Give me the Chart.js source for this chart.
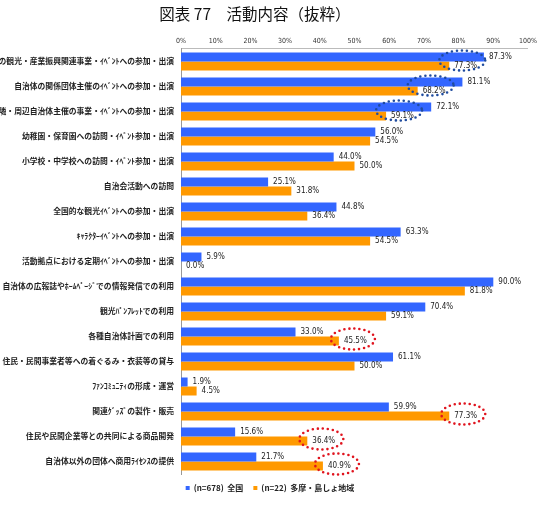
<!DOCTYPE html>
<html>
<head>
<meta charset="utf-8">
<script src="https://cdn.jsdelivr.net/npm/chart.js@4"></script>
<style>
  body { margin: 0; background: #fff; }
</style>
</head>
<body>
<canvas id="chart" width="541" height="510"></canvas>
<script>
const categories = [
    '自治体主催の観光・産業振興関連事業・ｲﾍﾞﾝﾄへの参加・出演',
    '自治体の関係団体主催のｲﾍﾞﾝﾄへの参加・出演',
    '近隣・周辺自治体主催の事業・ｲﾍﾞﾝﾄへの参加・出演',
    '幼稚園・保育園への訪問・ｲﾍﾞﾝﾄ参加・出演',
    '小学校・中学校への訪問・ｲﾍﾞﾝﾄ参加・出演',
    '自治会活動への訪問',
    '全国的な観光ｲﾍﾞﾝﾄへの参加・出演',
    'ｷｬﾗｸﾀｰｲﾍﾞﾝﾄへの参加・出演',
    '活動拠点における定期ｲﾍﾞﾝﾄへの参加・出演',
    '自治体の広報誌やﾎｰﾑﾍﾟｰｼﾞでの情報発信での利用',
    '観光ﾊﾟﾝﾌﾚｯﾄでの利用',
    '各種自治体計画での利用',
    '住民・民間事業者等への着ぐるみ・衣装等の貸与',
    'ﾌｧﾝｺﾐｭﾆﾃｨの形成・運営',
    '関連ｸﾞｯｽﾞの製作・販売',
    '住民や民間企業等との共同による商品開発',
    '自治体以外の団体へ商用ﾗｲｾﾝｽの提供',
];
const nationalValues = [87.3, 81.1, 72.1, 56.0, 44.0, 25.1, 44.8, 63.3, 5.9, 90.0, 70.4, 33.0, 61.1, 1.9, 59.9, 15.6, 21.7];
const tamaValues = [77.3, 68.2, 59.1, 54.5, 50.0, 31.8, 36.4, 54.5, 0.0, 81.8, 59.1, 45.5, 50.0, 4.5, 77.3, 36.4, 40.9];
const seriesNames = ['(n=678)  全国', '(n=22)  多摩・島しょ地域'];
const blueCircled = [0, 1, 2];          // 全国より低い項目
const redCircled = [11, 14, 15, 16];    // 全国より高い項目

const BLUE = '#3366ff';
const ORANGE = '#ff9900';

// 値ラベルと点線の丸
const labelPlugin = {
    id: 'valueLabels',
    afterDatasetsDraw(chart) {
        const ctx = chart.ctx;
        const yScale = chart.scales.y;
        ctx.save();
        ctx.font = '8px "DejaVu Sans Condensed", sans-serif';
        ctx.fillStyle = '#222';
        ctx.textAlign = 'left';
        ctx.textBaseline = 'middle';
        chart.data.datasets.forEach((ds, i) => {
            const meta = chart.getDatasetMeta(i);
            meta.data.forEach((bar, j) => {
                ctx.fillText(ds.data[j].toFixed(1) + '%', bar.x + 5, bar.y);
            });
        });

        const orangeMeta = chart.getDatasetMeta(1);
        ctx.lineCap = 'round';
        ctx.lineWidth = 2.6;
        ctx.setLineDash([0, 5]);

        ctx.strokeStyle = '#1f4b9e';
        blueCircled.forEach((j) => {
            const bar = orangeMeta.data[j];
            ctx.beginPath();
            ctx.ellipse(bar.x + 13, yScale.getPixelForValue(j) - 1, 23, 10, 0, 0, Math.PI * 2);
            ctx.stroke();
        });

        ctx.strokeStyle = '#e0141e';
        redCircled.forEach((j) => {
            const bar = orangeMeta.data[j];
            ctx.beginPath();
            ctx.ellipse(bar.x + 14, bar.y - 2, 22, 10.5, 0, 0, Math.PI * 2);
            ctx.stroke();
        });
        ctx.restore();
    },
};

new Chart(document.getElementById('chart'), {
    type: 'bar',
    data: {
        labels: categories,
        datasets: [
            {
                label: seriesNames[0],
                data: nationalValues,
                backgroundColor: BLUE,
            },
            {
                label: seriesNames[1],
                data: tamaValues,
                backgroundColor: ORANGE,
            },
        ],
    },
    options: {
        indexAxis: 'y',
        responsive: false,
        animation: false,
        datasets: {
            bar: {
                categoryPercentage: 0.72,
                barPercentage: 1.0,
            },
        },
        layout: {
            padding: { left: 0, right: 1, top: 0, bottom: 8 },
        },
        plugins: {
            title: {
                display: true,
                // 後ろの空白は元図の左寄せに合わせるため
                text: '図表 77　活動内容（抜粋）　　  ',
                color: '#111',
                font: { family: '"Noto Sans CJK JP", sans-serif', size: 15.5, weight: 'normal' },
                padding: { top: 5, bottom: 9 },
            },
            legend: {
                position: 'bottom',
                labels: {
                    boxWidth: 4,
                    boxHeight: 4,
                    padding: 10,
                    color: '#222',
                    font: { family: '"Noto Sans CJK JP", sans-serif', size: 8, weight: 'bold' },
                },
            },
            tooltip: { enabled: false },
        },
        scales: {
            x: {
                position: 'top',
                min: 0,
                max: 100,
                ticks: {
                    stepSize: 10,
                    padding: 4,
                    color: '#333',
                    font: { family: '"DejaVu Sans Condensed", sans-serif', size: 7 },
                    callback: (v) => v + '%',
                },
                grid: { display: false, drawTicks: false },
                border: { display: true, color: '#bbb' },
            },
            y: {
                ticks: {
                    autoSkip: false,
                    padding: 7,
                    color: '#222',
                    font: { family: '"Noto Sans CJK JP", sans-serif', size: 7.8, weight: 'bold' },
                },
                grid: { display: false, drawTicks: false },
                border: { display: true, color: '#999' },
                afterFit(scale) {
                    scale.width = 181;
                },
            },
        },
    },
    plugins: [labelPlugin],
});
</script>
</body>
</html>
